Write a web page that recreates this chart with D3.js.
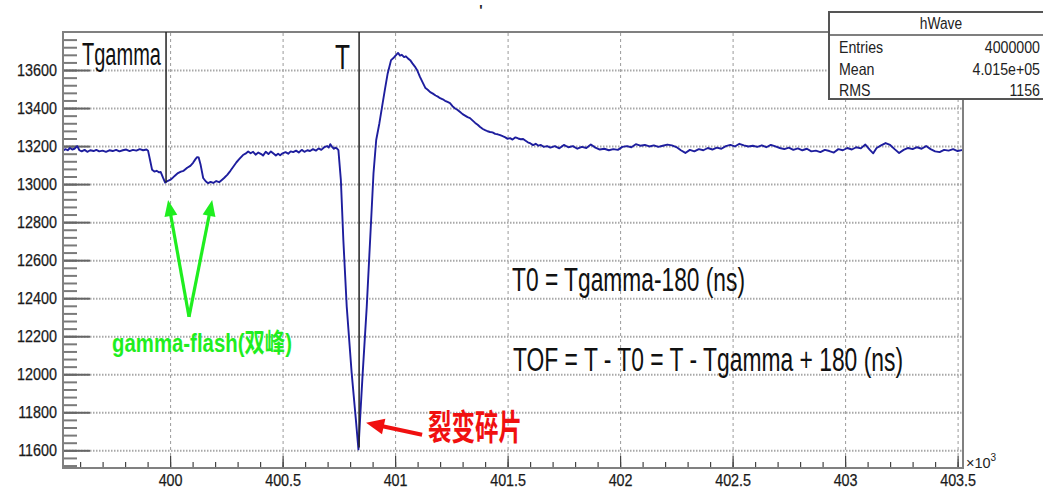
<!DOCTYPE html>
<html><head><meta charset="utf-8">
<script src="https://cdn.jsdelivr.net/npm/d3@7"></script>
<style>
body{margin:0;background:#fff}
svg{display:block}
text{font-family:"Liberation Sans",Arial,"Noto Sans CJK SC",sans-serif}
</style>
</head><body>
<svg id="chart" width="1043" height="489"></svg>
<script>
// ---- data (time in units of 10^3 ns, amplitude in ADC counts) ----
const timeX = [
399.524,399.535,399.545,399.555,399.565,399.575,399.587,399.597,399.607,399.62,
399.632,399.645,399.66,399.672,399.685,399.70,399.715,399.73,399.745,399.76,
399.775,399.79,399.805,399.82,399.835,399.85,399.865,399.88,399.895,399.902,
399.912,399.92,399.93,399.94,399.95,399.958,399.968,399.978,399.988,400.00,
400.012,400.025,400.035,400.048,400.06,400.076,400.09,400.102,400.112,400.12,
400.127,400.135,400.147,400.158,400.169,400.18,400.192,400.205,400.218,400.23,
400.24,400.255,400.268,400.28,400.295,400.31,400.324,400.335,400.347,400.358,
400.369,400.38,400.392,400.405,400.413,400.425,400.437,400.448,400.458,400.47,
400.48,400.489,400.50,400.513,400.525,400.536,400.547,400.56,400.572,400.585,
400.597,400.61,400.622,400.635,400.648,400.66,400.672,400.685,400.698,400.705,
400.712,400.72,400.728,400.735,400.741,400.748,
400.759,400.770,400.785,400.807,400.827,400.837,400.846,400.856,400.874,400.889,
400.904,400.916,400.930,400.942,400.955,400.967,400.982,400.995,401.005,401.013,
401.022,401.03,401.04,401.048,401.058,401.067,401.077,401.088,401.098,401.11,
401.124,401.135,401.145,401.156,401.168,401.18,401.19,401.2,401.212,401.222,
401.233,401.244,401.255,401.267,401.278,401.289,401.3,401.311,401.322,401.333,
401.345,401.356,401.367,401.378,401.39,401.4,401.411,401.422,401.433,401.445,
401.456,401.467,401.478,401.49,401.5,401.511,401.522,401.535,401.547,401.558,
401.569,401.58,401.59,401.602,401.613,401.625,401.637,401.648,401.66,401.676,
401.69,401.71,401.73,401.75,401.77,401.79,401.81,401.83,401.85,401.87,
401.89,401.91,401.93,401.95,401.97,401.99,402.01,402.03,402.05,402.07,
402.09,402.11,402.13,402.15,402.17,402.19,402.21,402.23,402.25,402.27,
402.29,402.31,402.33,402.35,402.37,402.39,402.41,402.43,402.45,402.47,
402.49,402.51,402.53,402.55,402.57,402.59,402.61,402.63,402.65,402.67,
402.69,402.71,402.73,402.75,402.77,402.79,402.81,402.83,402.85,402.87,
402.89,402.91,402.93,402.95,402.97,402.99,403.01,403.03,403.05,403.07,
403.09,403.11,403.125,403.14,403.16,403.18,403.20,403.22,403.24,403.26,
403.28,403.30,403.32,403.34,403.36,403.38,403.40,403.42,403.44,403.46,
403.48,403.50,403.524
];
const amplitude = [
13176,13184,13178,13190,13182,13186,13200,13178,13172,13180,
13170,13178,13174,13180,13172,13176,13170,13178,13174,13180,
13172,13178,13182,13174,13180,13176,13184,13178,13182,13176,
13120,13075,13066,13070,13062,13064,13035,13008,13016,13022,
13034,13048,13058,13066,13070,13086,13096,13112,13130,13142,
13140,13105,13032,13015,13005,13012,13006,13016,13010,13022,
13032,13050,13070,13090,13115,13135,13153,13160,13172,13162,
13170,13155,13166,13158,13150,13170,13158,13172,13162,13150,
13160,13152,13162,13168,13160,13172,13168,13176,13166,13180,
13170,13178,13174,13184,13176,13188,13180,13194,13200,13192,
13210,13196,13186,13192,13188,13179,
13021,12706,12356,12006,11743,11605,11800,12006,12356,12706,
13057,13232,13319,13406,13500,13582,13652,13666,13680,13690,
13676,13680,13668,13672,13660,13652,13635,13618,13599,13565,
13531,13505,13496,13484,13476,13466,13460,13452,13446,13438,
13432,13426,13410,13398,13390,13379,13368,13360,13352,13347,
13334,13322,13312,13300,13290,13284,13278,13274,13272,13264,
13262,13258,13252,13246,13238,13242,13234,13246,13240,13236,
13237,13228,13220,13214,13205,13212,13202,13206,13196,13200,
13192,13200,13188,13206,13194,13200,13186,13196,13190,13208,
13192,13182,13186,13178,13184,13180,13196,13200,13194,13210,
13202,13206,13198,13204,13196,13202,13208,13204,13195,13178,
13164,13180,13172,13184,13178,13190,13182,13192,13186,13200,
13206,13198,13212,13204,13198,13202,13196,13204,13194,13206,
13198,13190,13184,13192,13180,13188,13178,13186,13172,13176,
13168,13180,13174,13166,13184,13178,13190,13182,13194,13188,
13208,13180,13162,13190,13204,13216,13206,13184,13164,13180,
13190,13184,13194,13186,13200,13184,13172,13168,13180,13176,
13184,13174,13180
];
const yTickValues = [11600,11800,12000,12200,12400,12600,12800,13000,13200,13400,13600];
const xTickValues = [400,400.5,401,401.5,402,402.5,403,403.5];
const xTickLabels = ["400","400.5","401","401.5","402","402.5","403","403.5"];
const statsTitle = "hWave";
const statsNames = ["Entries","Mean","RMS"];
const statsValues = ["4000000","4.015e+05","1156"];
const markerNames = ["Tgamma","T"];
const markerTimes = [399.982, 400.84];
const markerEnds = [13010, 11615];

// ---- layout ----
const svg = d3.select("#chart");
const L = 63, R = 963, T = 32, B = 468;
const x = d3.scaleLinear().domain([399.524, 403.524]).range([L, R]);
const y = d3.scaleLinear().domain([11507, 13800]).range([B, T]);

function squeeze(sel, k) {
  sel.each(function () {
    const w = this.getComputedTextLength();
    this.setAttribute("textLength", w * k);
    this.setAttribute("lengthAdjust", "spacingAndGlyphs");
  });
}

svg.append("defs").append("clipPath").attr("id", "clip")
  .append("rect").attr("x", L).attr("y", T).attr("width", R - L).attr("height", B - T);

// grid
const gx = svg.append("g").attr("transform", `translate(0,${B})`)
  .call(d3.axisBottom(x).tickValues(xTickValues).tickSize(-(B - T)).tickFormat(""));
gx.select(".domain").remove();
gx.selectAll("line").attr("stroke", "#9a9a9a").attr("stroke-width", 1).attr("stroke-dasharray", "3,3");
const gy = svg.append("g").attr("transform", `translate(${L},0)`)
  .call(d3.axisLeft(y).tickValues(yTickValues).tickSize(-(R - L)).tickFormat(""));
gy.select(".domain").remove();
gy.selectAll("line").attr("stroke", "#a8a8a8").attr("stroke-width", 2).attr("stroke-dasharray", "1.5,1.5");

// minor y ticks
const ymin = svg.append("g").attr("transform", `translate(${L},0)`)
  .call(d3.axisLeft(y).tickValues(d3.range(11520, 13800, 40)).tickSize(-14).tickFormat(""));
ymin.select(".domain").remove();
ymin.selectAll("line").attr("stroke", "#7a7a7a").attr("stroke-width", 2);
// major y ticks + labels
const yax = svg.append("g").attr("transform", `translate(${L},0)`)
  .call(d3.axisLeft(y).tickValues(yTickValues).tickSize(-27).tickPadding(6).tickFormat(d3.format("d")));
yax.select(".domain").remove();
yax.selectAll("line").attr("stroke", "#666").attr("stroke-width", 2);
yax.selectAll("text").attr("font-size", 16.5).attr("fill", "#1a1a1a")
  .attr("stroke", "#1a1a1a").attr("stroke-width", 0.25)
  .style("font-family", '"Liberation Sans",Arial,sans-serif');
squeeze(yax.selectAll("text"), 0.87);

// x ticks
const xmin = svg.append("g").attr("transform", `translate(0,${B})`)
  .call(d3.axisBottom(x).tickValues(d3.range(399.6, 403.55, 0.1)).tickSize(-6).tickFormat(""));
xmin.select(".domain").remove();
xmin.selectAll("line").attr("stroke", "#444").attr("stroke-width", 1.2);
const xax = svg.append("g").attr("transform", `translate(0,${B})`)
  .call(d3.axisBottom(x).tickValues(xTickValues).tickSize(-12).tickPadding(6)
    .tickFormat((d, i) => xTickLabels[i]));
xax.select(".domain").remove();
xax.selectAll("line").attr("stroke", "#444").attr("stroke-width", 1.2);
xax.selectAll("text").attr("font-size", 16.5).attr("fill", "#1a1a1a")
  .attr("stroke", "#1a1a1a").attr("stroke-width", 0.25)
  .style("font-family", '"Liberation Sans",Arial,sans-serif');
squeeze(xax.selectAll("text"), 0.87);

const xm = svg.append("text").attr("x", 966).attr("y", 468).attr("font-size", 14.5).attr("fill", "#222");
xm.append("tspan").text("×10");
xm.append("tspan").attr("font-size", 10).attr("dy", -7).text("3");

// waveform
const pts = timeX.map((t, i) => [t, amplitude[i]]);
svg.append("path").datum(pts).attr("clip-path", "url(#clip)")
  .attr("fill", "none").attr("stroke", "#1e1e9e").attr("stroke-width", 1.9)
  .attr("stroke-linejoin", "round")
  .attr("d", d3.line().x(d => x(d[0])).y(d => y(d[1])));

// frame
svg.append("rect").attr("x", L).attr("y", T).attr("width", R - L).attr("height", B - T)
  .attr("fill", "none").attr("stroke", "#808080").attr("stroke-width", 2);

// markers
markerTimes.forEach((t, i) => {
  svg.append("line").attr("x1", x(t)).attr("x2", x(t)).attr("y1", T).attr("y2", y(markerEnds[i]))
    .attr("stroke", "#222").attr("stroke-width", 1.5);
});
svg.append("text").attr("x", 82).attr("y", 65).attr("font-size", 31).attr("fill", "#111")
  .attr("textLength", 79).attr("lengthAdjust", "spacingAndGlyphs").text(markerNames[0]);
svg.append("text").attr("x", 335).attr("y", 69).attr("font-size", 35).attr("fill", "#111")
  .attr("textLength", 15).attr("lengthAdjust", "spacingAndGlyphs").text(markerNames[1]);

// formula text
svg.append("text").attr("x", 512).attr("y", 291).attr("font-size", 33).attr("fill", "#111")
  .attr("textLength", 233).attr("lengthAdjust", "spacingAndGlyphs").text("T0 = Tgamma-180 (ns)");
svg.append("text").attr("x", 513).attr("y", 371).attr("font-size", 34).attr("fill", "#111")
  .attr("textLength", 390).attr("lengthAdjust", "spacingAndGlyphs").text("TOF = T - T0 = T - Tgamma + 180 (ns)");

// arrows
function arrow(x1, y1, x2, y2, color, w, hl, hw) {
  const ang = Math.atan2(y2 - y1, x2 - x1);
  const bx = x2 - hl * Math.cos(ang), by = y2 - hl * Math.sin(ang);
  const px = -Math.sin(ang) * hw / 2, py = Math.cos(ang) * hw / 2;
  svg.append("line").attr("x1", x1).attr("y1", y1).attr("x2", bx + hl * 0.2 * Math.cos(ang)).attr("y2", by + hl * 0.2 * Math.sin(ang))
    .attr("stroke", color).attr("stroke-width", w);
  svg.append("polygon").attr("points", `${x2},${y2} ${bx + px},${by + py} ${bx - px},${by - py}`)
    .attr("fill", color);
}
const green = "#1fee1f";
arrow(x(400.084), y(12302), x(399.991), y(12916), green, 3.2, 16, 13);
arrow(x(400.084), y(12302), x(400.187), y(12916), green, 3.2, 16, 13);
svg.append("text").attr("x", 112).attr("y", 352).attr("font-size", 26).attr("font-weight", "bold")
  .attr("fill", green).attr("textLength", 180).attr("lengthAdjust", "spacingAndGlyphs")
  .style("font-family", '"Liberation Sans","Noto Sans CJK SC",sans-serif')
  .text("gamma-flash(双峰)");

const red = "#f01010";
arrow(x(401.12), y(11682), x(400.871), y(11745), red, 4, 18, 16);
svg.append("text").attr("x", 428).attr("y", 440).attr("font-size", 35).attr("font-weight", "bold")
  .attr("fill", red).attr("textLength", 94).attr("lengthAdjust", "spacingAndGlyphs")
  .style("font-family", '"Noto Sans CJK SC",sans-serif').text("裂变碎片");

// small title remnant at top
svg.append("text").attr("x", 481).attr("y", 15).attr("font-size", 14).attr("font-weight", "bold")
  .attr("text-anchor", "middle").attr("fill", "#222").text("'");

// stats box
const sb = svg.append("g");
sb.append("rect").attr("x", 829).attr("y", 12).attr("width", 230).attr("height", 87)
  .attr("fill", "#fff").attr("stroke", "#555").attr("stroke-width", 2);
sb.append("line").attr("x1", 829).attr("x2", 1043).attr("y1", 35).attr("y2", 35)
  .attr("stroke", "#555").attr("stroke-width", 1.5);
const st = sb.append("text").attr("x", 941).attr("y", 29).attr("font-size", 16).attr("text-anchor", "middle")
  .attr("fill", "#222").text(statsTitle);
squeeze(st, 0.86);
const rowsY = [53, 74.5, 96];
statsNames.forEach((n, i) => {
  const a = sb.append("text").attr("x", 839).attr("y", rowsY[i]).attr("font-size", 16.5).attr("fill", "#222").text(n);
  const b = sb.append("text").attr("x", 1040).attr("y", rowsY[i]).attr("font-size", 16.5).attr("text-anchor", "end")
    .attr("fill", "#222").text(statsValues[i]);
  squeeze(a, 0.86); squeeze(b, 0.86);
});
</script>
</body></html>
